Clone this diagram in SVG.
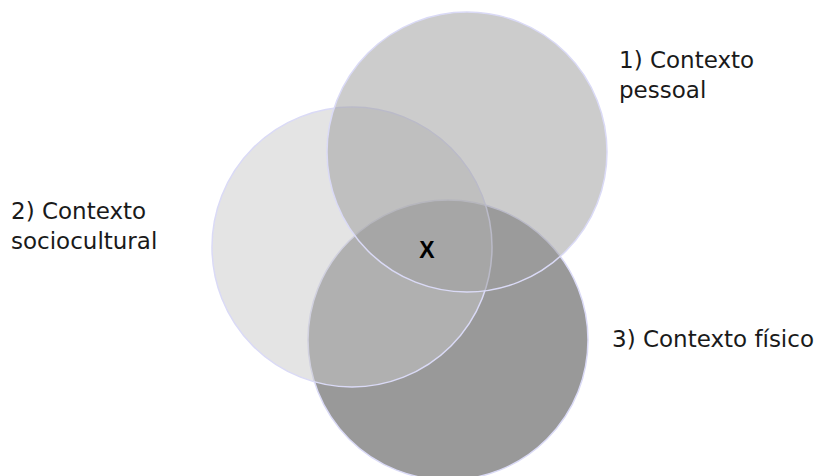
<svg xmlns="http://www.w3.org/2000/svg" width="827" height="476" viewBox="0 0 827 476">
<style>
.c{stroke:#dadaf6;stroke-width:1.5}
.t{font-family:"DejaVu Sans","Liberation Sans",sans-serif;font-size:23px;fill:#1a1a1a}
.x{font-family:"Liberation Sans",Arial,sans-serif;font-size:23px;font-weight:bold;fill:#000}
</style>
<rect width="827" height="476" fill="#fff"/>
<g id="circle3"><circle class="c" cx="448" cy="340" r="140" fill="#999999"/></g>
<g id="circle2"><circle class="c" cx="352" cy="247" r="140" fill="#c8c8c8" fill-opacity="0.49"/></g>
<g id="circle1"><circle class="c" cx="467" cy="152" r="140" fill="#9d9d9d" fill-opacity="0.52"/></g>
<g id="label1"><text class="t" x="619" y="68">1) Contexto</text><text class="t" x="619" y="98">pessoal</text></g>
<g id="label2"><text class="t" x="11" y="219">2) Contexto</text><text class="t" x="11" y="249">sociocultural</text></g>
<g id="label3"><text class="t" x="612" y="347">3) Contexto físico</text></g>
<g id="center"><text class="x" x="427" y="258" text-anchor="middle">X</text></g>
</svg>
